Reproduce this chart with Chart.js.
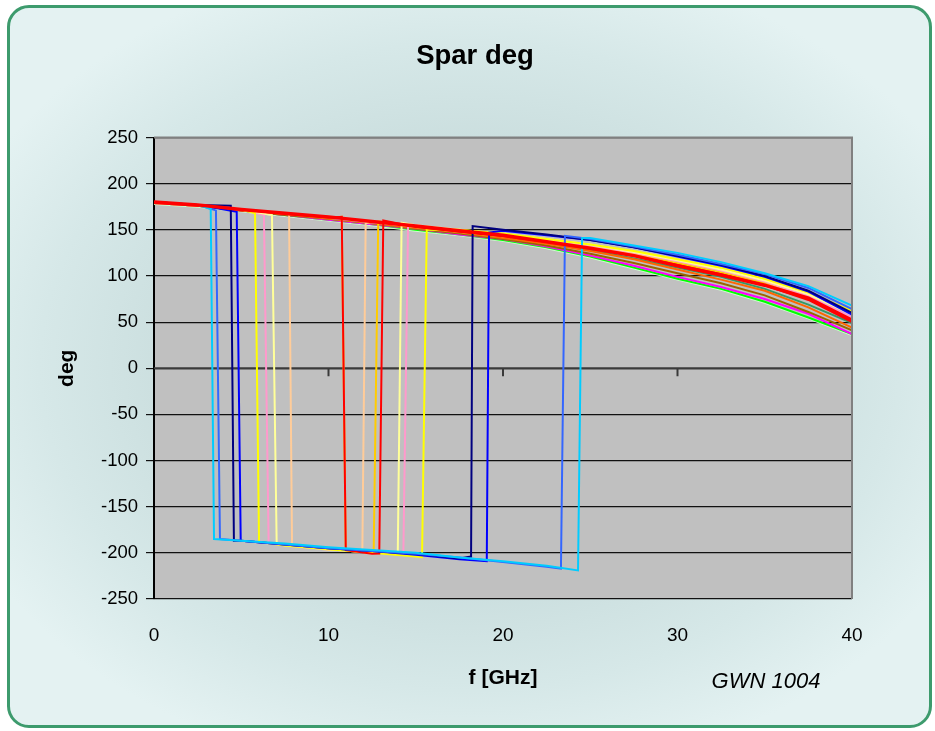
<!DOCTYPE html>
<html>
<head>
<meta charset="utf-8">
<title>Spar deg</title>
<script src="https://cdn.jsdelivr.net/npm/chart.js@4.4.1/dist/chart.umd.min.js"></script>
<style>
  html, body { margin: 0; padding: 0; width: 935px; height: 731px; overflow: hidden; background: #fff; }
  #panel {
    position: absolute; left: 7px; top: 5px; width: 919px; height: 717px;
    border: 3px solid #3d9b6d; border-radius: 22px;
    background: radial-gradient(ellipse 60% 58% at 50% 50%, #c3d9d9 0%, #c9dddd 50%, #d6e8e8 78%, #e4f2f2 100%);
  }
  #chart { position: absolute; left: 0; top: 0; }
</style>
</head>
<body>
<div id="panel"></div>
<canvas id="chart" width="935" height="731"></canvas>
<script>
// frequency grid, GHz
const FREQ = [0, 2.5, 5, 7.5, 10, 12.5, 15, 17.5, 20, 22.5, 25, 27.5, 30, 32.5, 35, 37.5, 40];

// phase of each trace on FREQ, deg (unwrapped)
const LIGHTGREEN = [178, 175, 170, 165, 160, 155, 149, 144, 138, 130, 120, 108, 96, 85, 71, 54, 36];
const GREEN      = [179, 176, 171, 166, 161, 156, 150, 145, 139, 131, 121, 109, 97, 86, 72, 55, 37];
const MAGENTA    = [179, 176, 171, 166, 161, 156, 151, 145, 140, 132, 122, 111, 99, 88, 75, 59, 37];
const BROWN      = [179, 176, 171, 166, 162, 157, 151, 146, 140, 133, 124, 114, 103, 92, 79, 61, 41];
const TEAL       = [179, 176, 172, 167, 162, 157, 152, 147, 142, 136, 128, 119, 109, 99, 86, 69, 49];
const ORANGE     = [179, 176, 171, 167, 162, 157, 152, 147, 141, 135, 127, 118, 107, 96, 84, 66, 44];
const LAVENDER   = [179, 176, 172, 168, 163, 158, 154, 149, 145, 140, 134, 126, 118, 108, 96, 80, 57];
const TAN        = [179, 176, 172, 168, 163, 159, 153, 148, 143, 138, 132, 124, 115, 105, 93, 77, 54];
const GOLD       = [179, 176, 172, 167, 163, 160, 153, 148, 143, 138, 131, 123, 114, 104, 92, 76, 53];
const ROSE       = [179, 176, 172, 168, 164, 160, 155, 149, 144, 139, 133, 125, 116, 106, 94, 78, 55];
const PALEYELLOW = [179, 176, 172, 168, 164, 160, 155, 150, 145, 140, 134, 126, 117, 107, 95, 80, 58];
const YELLOW     = [180, 177, 172, 168, 164, 160, 156, 150, 146, 140, 134, 127, 118, 109, 97, 82, 62];
const RED        = [179, 176, 172, 167, 163, 159, 153, 148, 143, 137, 130, 122, 112, 102, 90, 74, 50];
const BLUE       = [180, 177, 173, 169, 165, 162, 158, 153, 149, 144, 139, 131, 121, 111, 99, 83, 58];
const NAVY       = [180, 177, 173, 169, 165, 162, 159, 154, 150, 145, 139, 131, 122, 112, 100, 84, 60];
const ROYAL      = [180, 177, 173, 169, 165, 162, 159, 155, 150, 145, 140, 132, 123, 113, 102, 87, 64];
const CYAN       = [180, 177, 173, 170, 166, 163, 160, 155, 151, 146, 141, 133, 125, 115, 103, 89, 68];
const REF        = [180, 177, 172, 168, 164, 159, 154, 149, 144, 137, 130, 122, 111, 101, 90, 76, 52];

// wrap points [f, deg]: top of drop, bottom of drop, bottom of rise, top of rise
const TAN_WRAP        = [7.74, 168, 7.91, -191, 11.94, -197, 12.13, 157];
const GOLD_WRAP       = [10.76, 164, 10.99, -197, 12.59, -198, 12.85, 159];
const ROSE_WRAP       = [6.30, 166, 6.57, -189.5, 14.29, -200.7, 14.56, 156];
const PALEYELLOW_WRAP = [6.76, 166, 7.03, -189.5, 13.97, -200, 14.19, 157.6];
const YELLOW_WRAP     = [5.79, 168, 6.02, -188, 15.36, -204.6, 15.63, 150];
const RED_WRAP        = [10.76, 164, 10.99, -197, 12.91, -200.7, 13.14, 160];
const BLUE_WRAP       = [4.74, 169.5, 4.97, -187, 19.07, -209, 19.20, 147];
const NAVY_WRAP       = [4.40, 176, 4.58, -187, 18.17, -204, 18.26, 154];
const ROYAL_WRAP      = [3.55, 171, 3.78, -185, 23.32, -217, 23.55, 143.5];
const CYAN_WRAP       = [3.25, 172.5, 3.44, -185, 24.30, -219, 24.53, 141];

const FONT = "'Liberation Sans', Arial, Helvetica, sans-serif";

// phase shown wrapped: between the drop and the rise the trace sits 360 deg lower
function tracePoints(vals, wrap) {
  if (!wrap) return FREQ.map((f, i) => ({ x: f, y: vals[i] }));
  const [fa, va, fb, vb, fc, vc, fd, vd] = wrap;
  const pts = [];
  FREQ.forEach((f, i) => {
    if (f < fa || f > fd) pts.push({ x: f, y: vals[i] });
    else if (f > fb && f < fc) pts.push({ x: f, y: vals[i] - 360 });
  });
  pts.push({ x: fa, y: va }, { x: fb, y: vb }, { x: fc, y: vc }, { x: fd, y: vd });
  return pts.sort((p, q) => p.x - q.x);
}

// listed bottom-most first
const traces = [
  { vals: LIGHTGREEN, color: '#CCFFCC' },
  { vals: GREEN, color: '#00FF00' },
  { vals: MAGENTA, color: '#FF00FF' },
  { vals: BROWN, color: '#996600' },
  { vals: TEAL, color: '#339966' },
  { vals: ORANGE, color: '#FF6600' },
  { vals: LAVENDER, color: '#CC99FF' },
  { vals: TAN, wrap: TAN_WRAP, color: '#FFCC99' },
  { vals: GOLD, wrap: GOLD_WRAP, color: '#FFCC00' },
  { vals: ROSE, wrap: ROSE_WRAP, color: '#FF99CC' },
  { vals: PALEYELLOW, wrap: PALEYELLOW_WRAP, color: '#FFFF99' },
  { vals: YELLOW, wrap: YELLOW_WRAP, color: '#FFFF00' },
  { vals: RED, wrap: RED_WRAP, color: '#FF0000' },
  { vals: BLUE, wrap: BLUE_WRAP, color: '#0000FF' },
  { vals: NAVY, wrap: NAVY_WRAP, color: '#000080' },
  { vals: ROYAL, wrap: ROYAL_WRAP, color: '#3366FF' },
  { vals: CYAN, wrap: CYAN_WRAP, color: '#00CCFF' },
  { vals: REF, color: '#FF0000', width: 3.5 },
];

// grey plot area, x axis through 0 with its tick marks, frame, title and note
const excelFrame = {
  id: 'excelFrame',
  beforeDraw(chart) {
    const { ctx, chartArea: a } = chart;
    ctx.save();
    ctx.fillStyle = '#C0C0C0';
    ctx.fillRect(a.left, a.top, a.right - a.left, a.bottom - a.top);
    ctx.restore();
  },
  beforeDatasetsDraw(chart) {
    const { ctx, chartArea: a, scales } = chart;
    const y0 = scales.y.getPixelForValue(0);
    ctx.save();
    ctx.strokeStyle = '#3a3a3a';
    ctx.lineWidth = 2;
    ctx.beginPath();
    ctx.moveTo(a.left, y0);
    ctx.lineTo(a.right, y0);
    [10, 20, 30].forEach(v => {
      const x = scales.x.getPixelForValue(v);
      ctx.moveTo(x, y0);
      ctx.lineTo(x, y0 + 8);
    });
    ctx.stroke();
    ctx.restore();
  },
  afterDraw(chart) {
    const { ctx, chartArea: a } = chart;
    ctx.save();
    ctx.strokeStyle = '#808080';
    ctx.lineWidth = 2;
    ctx.beginPath();
    ctx.moveTo(a.left, a.top);
    ctx.lineTo(a.right, a.top);
    ctx.lineTo(a.right, a.bottom);
    ctx.stroke();
    ctx.fillStyle = '#000';
    ctx.textAlign = 'center';
    ctx.textBaseline = 'middle';
    ctx.font = 'bold 27.5px ' + FONT;
    ctx.fillText('Spar deg', 475, 56);
    ctx.font = 'italic 22px ' + FONT;
    ctx.fillText('GWN 1004', 766, 682);
    ctx.restore();
  }
};

// Chart.js paints dataset 0 last, so hand the list over top-most first
const datasets = traces.map(t => ({
  data: tracePoints(t.vals, t.wrap),
  borderColor: t.color,
  borderWidth: t.width || 2,
  pointRadius: 0,
  tension: 0,
  fill: false
})).reverse();

new Chart(document.getElementById('chart'), {
  type: 'line',
  data: { datasets },
  options: {
    responsive: false,
    animation: false,
    devicePixelRatio: 1,
    layout: { padding: { left: 0, right: 83, top: 137.5, bottom: 0 } },
    plugins: {
      legend: { display: false },
      tooltip: { enabled: false },
      title: { display: false }
    },
    scales: {
      x: {
        type: 'linear',
        min: 0,
        max: 40,
        afterFit(scale) { scale.height = 132; },
        ticks: { stepSize: 10, color: '#000', padding: 17, font: { family: FONT, size: 19 } },
        grid: { display: false },
        border: { display: false },
        title: {
          display: true,
          text: 'f [GHz]',
          color: '#000',
          font: { family: FONT, size: 21, weight: 'bold' },
          padding: { top: 0, bottom: 40.4 }
        }
      },
      y: {
        min: -250,
        max: 250,
        afterFit(scale) { scale.width = 154; },
        ticks: { stepSize: 50, color: '#000', padding: 8, font: { family: FONT, size: 18.5 } },
        grid: { color: '#111', lineWidth: 1.2, tickLength: 8 },
        border: { display: true, color: '#000', width: 2 },
        title: {
          display: true,
          text: 'deg',
          color: '#000',
          font: { family: FONT, size: 21, weight: 'bold' },
          padding: { top: 54.4, bottom: 0 }
        }
      }
    }
  },
  plugins: [excelFrame]
});
</script>
</body>
</html>
